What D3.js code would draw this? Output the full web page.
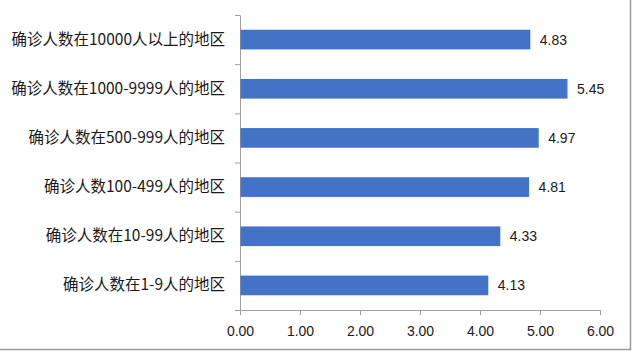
<!DOCTYPE html>
<html>
<head>
<meta charset="utf-8">
<script src="https://cdn.jsdelivr.net/npm/d3@7"></script>
<style>
  body { margin: 0; background: #fff; }
  svg { display: block; }
</style>
</head>
<body>
<svg id="chart"></svg>
<script>
// data
const categories = [
  "确诊人数在10000人以上的地区",
  "确诊人数在1000-9999人的地区",
  "确诊人数在500-999人的地区",
  "确诊人数100-499人的地区",
  "确诊人数在10-99人的地区",
  "确诊人数在1-9人的地区"
];
const values = [4.83, 5.45, 4.97, 4.81, 4.33, 4.13];
const xTicks = [0, 1, 2, 3, 4, 5, 6];

const W = 632, H = 351;
const margin = { top: 15, right: 32, bottom: 41, left: 240 },
  width = W - margin.left - margin.right,
  height = H - margin.top - margin.bottom;

const root = d3.select("#chart").attr("width", W).attr("height", H);

// frame edges (only right and bottom show in the reference)
root.append("line")
  .attr("x1", 630.5).attr("x2", 630.5).attr("y1", 0).attr("y2", 350)
  .attr("stroke", "#9a9a9a").attr("stroke-width", 1.5);
root.append("line")
  .attr("x1", 0).attr("x2", 631).attr("y1", 349.5).attr("y2", 349.5)
  .attr("stroke", "#9a9a9a").attr("stroke-width", 1.5);

const svg = root.append("g")
  .attr("transform", `translate(${margin.left},${margin.top})`);

const x = d3.scaleLinear().domain([0, 6]).range([0, width]);
const y = d3.scaleBand()
  .domain(categories)
  .range([0, height])
  .paddingInner(0.6)
  .paddingOuter(0.3);

const axisColor = "#a0a0a0";
const textFont = "'Liberation Sans', 'Noto Sans CJK SC', sans-serif";
const labelFont = "'Noto Sans CJK SC', 'Liberation Sans', sans-serif";

// x axis
const xAxis = svg.append("g")
  .attr("transform", `translate(0,${height})`)
  .call(d3.axisBottom(x).tickValues(xTicks).tickFormat(d3.format(".2f"))
    .tickSize(5).tickPadding(11).tickSizeOuter(0));
xAxis.select(".domain").attr("stroke", axisColor);
xAxis.selectAll(".tick line").attr("stroke", axisColor);
xAxis.selectAll("text")
  .attr("fill", "#1a1a1a")
  .style("font-family", textFont)
  .style("font-size", "14px");

// y axis: separator ticks between categories
const ySep = d3.scaleLinear().domain([0, categories.length]).range([0, height]);
const yAxis = svg.append("g")
  .call(d3.axisLeft(ySep).ticks(categories.length).tickFormat("")
    .tickSize(5).tickSizeOuter(0));
yAxis.select(".domain").attr("stroke", axisColor);
yAxis.selectAll(".tick line").attr("stroke", axisColor);

// category labels
const yLabels = svg.append("g")
  .call(d3.axisLeft(y).tickSize(0).tickPadding(15));
yLabels.select(".domain").remove();
yLabels.selectAll("text")
  .attr("fill", "#1a1a1a")
  .style("font-family", labelFont)
  .style("font-size", "15.5px");

// bars
svg.selectAll(".bar")
  .data(values)
  .join("rect")
  .attr("class", "bar")
  .attr("x", x(0) + 0.5)
  .attr("y", (d, i) => y(categories[i]))
  .attr("width", d => x(d) - x(0))
  .attr("height", y.bandwidth())
  .attr("fill", "#4472c4");

// value labels
svg.selectAll(".val")
  .data(values)
  .join("text")
  .attr("class", "val")
  .attr("x", d => x(d) + 10)
  .attr("y", (d, i) => y(categories[i]) + y.bandwidth() / 2)
  .attr("dy", "0.36em")
  .attr("fill", "#1a1a1a")
  .style("font-family", textFont)
  .style("font-size", "14px")
  .text(d => d.toFixed(2));
</script>
</body>
</html>
